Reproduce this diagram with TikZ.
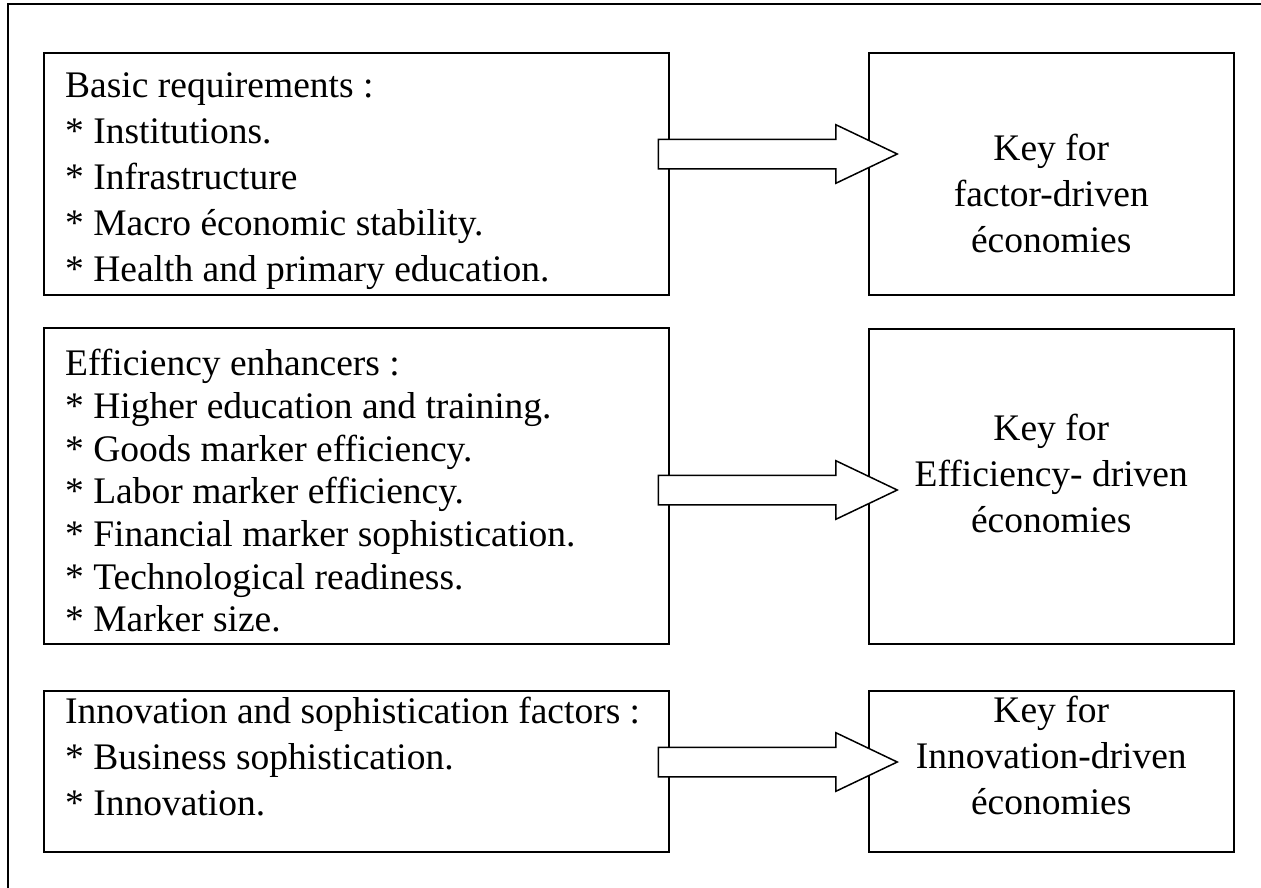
\documentclass[tikz,border=0pt]{standalone}
\usepackage{fontspec}
\setmainfont{Liberation Serif}
\usetikzlibrary{shapes.arrows,calc}

\tikzset{
  box/.style={draw, line width=1.5pt, inner sep=0pt, anchor=north west},
  itemtext/.style={inner sep=0pt, anchor=north west, align=left,
    font=\fontsize{37.5}{46}\selectfont, execute at begin node=\strut},
  keytext/.style={inner sep=0pt, anchor=north, align=center,
    font=\fontsize{37.5}{46}\selectfont, execute at begin node=\strut},
  bigarrow/.style={draw, fill=white, line width=1.5pt, single arrow,
    single arrow head extend=14.5pt, single arrow tip angle=51,
    minimum height=239pt, minimum width=57pt, inner xsep=0pt, inner ysep=14pt,
    anchor=tail}
}

\begin{document}
\begin{tikzpicture}[x=1pt,y=1pt]
	\useasboundingbox (0,0) rectangle (1261,-887);
	\clip (0,0) rectangle (1261,-887);
	% outer frame
	\draw [line width=1.5pt] (8,-4) rectangle (1275,-900);
	% left column
	\node [box, minimum width=625pt, minimum height=242pt] (basic) at (43,-52) {};
	\node [box, minimum width=625pt, minimum height=316pt] (effic) at (43,-327) {};
	\node [box, minimum width=625pt, minimum height=161pt] (innov) at (43,-690) {};
	% right column
	\node [box, minimum width=365pt, minimum height=242pt] (key1) at (868,-52) {};
	\node [box, minimum width=365pt, minimum height=315pt] (key2) at (868,-328) {};
	\node [box, minimum width=365pt, minimum height=161pt] (key3) at (868,-690) {};
	% texts, placed by the top of the first strut
	\node [itemtext] (basic text) at ($(basic.north west)+(22,-20.8)$) {Basic requirements :\\
		* Institutions.\\
		* Infrastructure\\
		* Macro économic stability.\\
		* Health and primary education.};
	\node [itemtext, font=\fontsize{37.5}{42.7}\selectfont] (effic text) at ($(effic.north west)+(22,-22.1)$) {Efficiency enhancers :\\
		* Higher education and training.\\
		* Goods marker efficiency.\\
		* Labor marker efficiency.\\
		* Financial marker sophistication.\\
		* Technological readiness.\\
		* Marker size.};
	\node [itemtext] (innov text) at ($(innov.north west)+(22,-6.8)$) {Innovation and sophistication factors :\\
		* Business sophistication.\\
		* Innovation.};
	\node [keytext] (key1 text) at ($(key1.north)+(0,-81.8)$) {Key for\\ factor-driven\\ économies};
	\node [keytext] (key2 text) at ($(key2.north)+(0,-85.8)$) {Key for\\ Efficiency- driven\\ économies};
	\node [keytext] (key3 text) at ($(key3.north)+(0,-5.8)$) {Key for\\ Innovation-driven\\ économies};
	% block arrows
	\node [bigarrow] (arrow1) at ($(basic.north east)+(-12,-102)$) {};
	\node [bigarrow] (arrow2) at ($(effic.north east)+(-12,-163)$) {};
	\node [bigarrow] (arrow3) at ($(innov.north east)+(-12,-72)$) {};
\end{tikzpicture}
\end{document}
